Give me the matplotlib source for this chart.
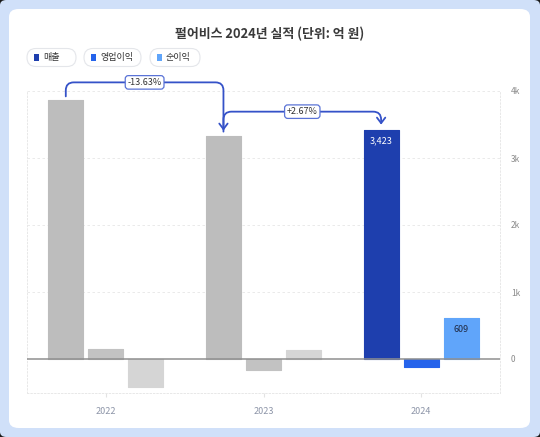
import matplotlib
matplotlib.use("Agg")
import matplotlib.pyplot as plt
from matplotlib.patches import FancyBboxPatch, Rectangle, FancyArrowPatch
from matplotlib.path import Path
from matplotlib.transforms import IdentityTransform
import numpy as np

plt.rcParams['font.family'] = ['Noto Sans CJK KR', 'DejaVu Sans']

# ---- data ----
years = ["2022", "2023", "2024"]
series_names = ["매출", "영업이익", "순이익"]
revenue = [3860, 3334, 3423]
op_profit = [155, -165, -115]
net_profit = [-413, 140, 609]
changes = ["-13.63%", "+2.67%"]
yticks = [0, 1000, 2000, 3000, 4000]
ytick_labels = ["0", "1k", "2k", "3k", "4k"]

cur_colors = ["#1e3fae", "#2563eb", "#60a5fa"]
old_colors = ["#bdbdbd", "#c2c2c2", "#d5d5d5"]

W, H = 540, 437
fig = plt.figure(figsize=(W / 100, H / 100), dpi=100)
fig.patch.set_facecolor("#1a1a1a")

def px_box(x0, y0, x1, y1):
    """image pixel (top-left origin) -> figure fraction rect"""
    return x0 / W, 1 - y1 / H, (x1 - x0) / W, (y1 - y0) / H

# outer blue frame and white card
fig.add_artist(FancyBboxPatch((0.0, 0.0), 1.0, 1.0, boxstyle="round,pad=0,rounding_size=0.012",
                              transform=fig.transFigure, facecolor="#d0e0f9", edgecolor="none", zorder=0))
cx, cy, cw, ch = px_box(9, 9, 530, 428)
fig.add_artist(FancyBboxPatch((cx, cy), cw, ch, boxstyle="round,pad=0,rounding_size=0.018",
                              transform=fig.transFigure, facecolor="white", edgecolor="none", zorder=0))

# axes
ax_l, ax_r, ax_t, ax_b = 27, 500, 91, 393
ax = fig.add_axes(px_box(ax_l, ax_t, ax_r, ax_b))
ax.set_facecolor("none")
ax.set_xlim(-0.5, 2.5)
ymin = -(ax_b - 359) / (359 - 91) * 4000
ax.set_ylim(ymin, 4000)

x = np.arange(len(years))
offs = 0.254
bw = 0.222
for i in range(len(years)):
    cols = cur_colors if i == len(years) - 1 else old_colors
    vals = [revenue[i], op_profit[i], net_profit[i]]
    for j, v in enumerate(vals):
        ax.bar(x[i] + (j - 1) * offs, v, width=bw, color=cols[j], edgecolor=cols[j],
               linewidth=0.8, joinstyle="round", zorder=3)

ax.axhline(0, color="#8f8f8f", lw=1.1, zorder=4)
for yt in yticks[1:]:
    ax.axhline(yt, color="#e6e6e6", lw=0.6, ls=(0, (3, 3)), zorder=1)
for s in ["left", "right", "bottom"]:
    ax.spines[s].set_color("#e8e8e8")
    ax.spines[s].set_linestyle((0, (1.5, 2)))
    ax.spines[s].set_linewidth(0.7)
ax.spines["top"].set_visible(False)

ax.yaxis.tick_right()
ax.set_yticks(yticks)
ax.set_yticklabels(ytick_labels)
ax.tick_params(axis="y", length=0, pad=8, labelsize=6, labelcolor="#8a8a8a")
ax.set_xticks(x)
ax.set_xticklabels(years)
ax.tick_params(axis="x", length=3, color="#e3e3e3", pad=7, labelsize=6.5, labelcolor="#8d95a8")

# value labels on 2024 bars
ax.annotate(f"{revenue[2]:,}", (x[2] - offs, revenue[2]), xytext=(0, -11), textcoords="offset pixels",
            ha="center", va="center", fontsize=6.5, color="white", zorder=5)
ax.annotate(f"{net_profit[2]:,}", (x[2] + offs, net_profit[2]), xytext=(0, -11), textcoords="offset pixels",
            ha="center", va="center", fontsize=6.5, color="#1f2a44", zorder=5)

# ---- change arrows (in display pixels) ----
line_col = "#3552c8"

def disp(xd, yd):
    return ax.transData.transform((xd, yd))

r = 8
for k in range(len(changes)):
    x0, y0 = disp(x[k] - offs, revenue[k])
    x1, y1 = disp(x[k + 1] - offs, revenue[k + 1])
    yh = max(y0, y1) + 18
    sy = y0 + 4
    ey = y1 + 5
    verts = [(x0, sy), (x0, yh - r), (x0, yh), (x0 + r, yh),
             (x1 - r, yh), (x1, yh), (x1, yh - r), (x1, ey)]
    codes = [Path.MOVETO, Path.LINETO, Path.CURVE3, Path.CURVE3,
             Path.LINETO, Path.CURVE3, Path.CURVE3, Path.LINETO]
    arr = FancyArrowPatch(path=Path(verts, codes), arrowstyle="->,head_length=4,head_width=3",
                          color=line_col, lw=1.3, transform=IdentityTransform(),
                          shrinkA=0, shrinkB=0, zorder=6)
    fig.add_artist(arr)
    mx = (x0 + x1) / 2
    fx, fy = fig.transFigure.inverted().transform((mx, yh))
    fig.text(fx, fy, changes[k], ha="center", va="center", fontsize=6.5, color="#333",
             zorder=7, bbox=dict(boxstyle="round,pad=0.25,rounding_size=0.35",
                                 fc="white", ec="#5a73d6", lw=0.9))

# ---- title ----
fig.text(270 / W, 1 - 34 / H, "펄어비스 2024년 실적 (단위: 억 원)", ha="center", va="center",
         fontsize=9.3, fontweight="bold", color="#3a3a3a")

# ---- legend pills ----
pills = [(27, 76), (84, 141), (150, 200)]
for (px0, px1), name, col in zip(pills, series_names, cur_colors):
    bx, by, bwid, bht = px_box(px0, 48.5, px1, 66.5)
    fig.add_artist(FancyBboxPatch((bx, by), bwid, bht,
                                  boxstyle="round,pad=0,rounding_size=0.0165",
                                  mutation_aspect=W / H,
                                  transform=fig.transFigure, fc="white", ec="#e4e6ea", lw=0.8))
    mx0, my0, mw, mh = px_box(px0 + 7, 54, px0 + 12, 61)
    fig.add_artist(Rectangle((mx0, my0), mw, mh, transform=fig.transFigure, fc=col, ec="none"))
    fig.text((px0 + 16) / W, 1 - 57.5 / H, name, ha="left", va="center", fontsize=6.5, color="#333")

fig.savefig("out.png", dpi=100, facecolor=fig.get_facecolor())
